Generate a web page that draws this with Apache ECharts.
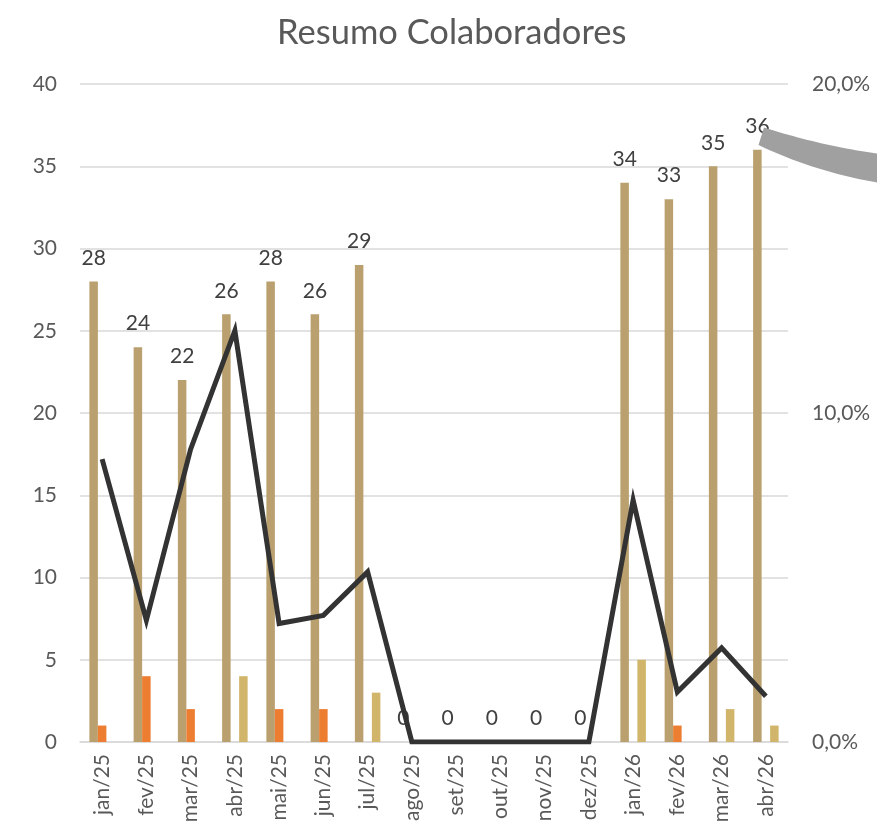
<!DOCTYPE html>
<html>
<head>
<meta charset="utf-8">
<script src="https://cdn.jsdelivr.net/npm/echarts@6/dist/echarts.min.js"></script>
<style>
html,body{margin:0;padding:0;background:#fff;}
#c{width:877px;height:831px;}
</style>
</head>
<body>
<div id="c"></div>
<script>
const categories = ['jan/25','fev/25','mar/25','abr/25','mai/25','jun/25','jul/25','ago/25','set/25','out/25','nov/25','dez/25','jan/26','fev/26','mar/26','abr/26'];
const colaboradores = [28,24,22,26,28,26,29,0,0,0,0,0,34,33,35,36];
const desligamentos = [1,4,2,0,2,2,0,0,0,0,0,0,0,1,0,0];
const admissoes = [0,0,0,4,0,0,3,0,0,0,0,0,5,0,2,1];
const turnover = [8.6,3.7,8.9,12.5,3.6,3.85,5.17,0,0,0,0,0,7.35,1.52,2.86,1.39];
const leftTicks = [0,40,5];
const rightTicks = [0,20,10];

const FONT = 'Lato';
const chart = echarts.init(document.getElementById('c'), null, {renderer:'canvas'});

function quad(p0, c, p2, n){
  const pts=[];
  for(let i=0;i<=n;i++){const t=i/n;const a=(1-t)*(1-t),b=2*(1-t)*t,d=t*t;
    pts.push([a*p0[0]+b*c[0]+d*p2[0], a*p0[1]+b*c[1]+d*p2[1]]);}
  return pts;
}
const topEdge = quad([764,127.5],[822,146],[880,154],24);
const botEdge = quad([758.5,145],[815,172],[880,183],24).reverse();

chart.setOption({
  animation:false,
  textStyle:{fontFamily:FONT},
  title:{text:'Resumo Colaboradores',left:272,top:10,
    textStyle:{fontFamily:FONT,fontSize:34.5,fontWeight:'normal',color:'#595959'}},
  grid:{left:80,right:89,top:84,bottom:89,containLabel:false},
  xAxis:{type:'category',data:categories,
    axisLine:{lineStyle:{color:'#D9D9D9',width:1.5}},axisTick:{show:false},
    axisLabel:{rotate:90,fontSize:21,color:'#595959',margin:12,fontFamily:FONT}},
  yAxis:[
    {type:'value',min:leftTicks[0],max:leftTicks[1],interval:leftTicks[2],
     axisLine:{show:false},axisTick:{show:false},
     splitLine:{lineStyle:{color:'#D9D9D9',width:1.5}},
     axisLabel:{fontSize:21,color:'#595959',margin:23,fontFamily:FONT}},
    {type:'value',min:rightTicks[0],max:rightTicks[1],interval:rightTicks[2],position:'right',
     axisLine:{show:false},axisTick:{show:false},splitLine:{show:false},
     axisLabel:{fontSize:21,color:'#595959',margin:24,fontFamily:FONT,
       formatter:v=>v.toFixed(1).replace('.',',')+'%'}}
  ],
  series:[
    {name:'Colaboradores',type:'bar',data:colaboradores,barWidth:8.5,barGap:'0%',
     itemStyle:{color:'#B9A06E'},z:2,
     label:{show:true,position:'top',distance:13,fontSize:21,color:'#404040',fontFamily:FONT}},
    {name:'Desligamentos',type:'bar',data:desligamentos,barWidth:8.5,barGap:'0%',
     itemStyle:{color:'#ED7D31'},z:2},
    {name:'Admissões',type:'bar',data:admissoes,barWidth:8.5,barGap:'0%',
     itemStyle:{color:'#D1B56B'},z:2},
    {name:'Turnover',type:'line',yAxisIndex:1,data:turnover,symbol:'none',z:5,
     lineStyle:{color:'#333333',width:5,join:'miter'}}
  ],
  graphic:[{type:'polygon',z:100,shape:{points:topEdge.concat(botEdge)},
    style:{fill:'#A0A0A0'}}]
});
</script>
</body>
</html>
